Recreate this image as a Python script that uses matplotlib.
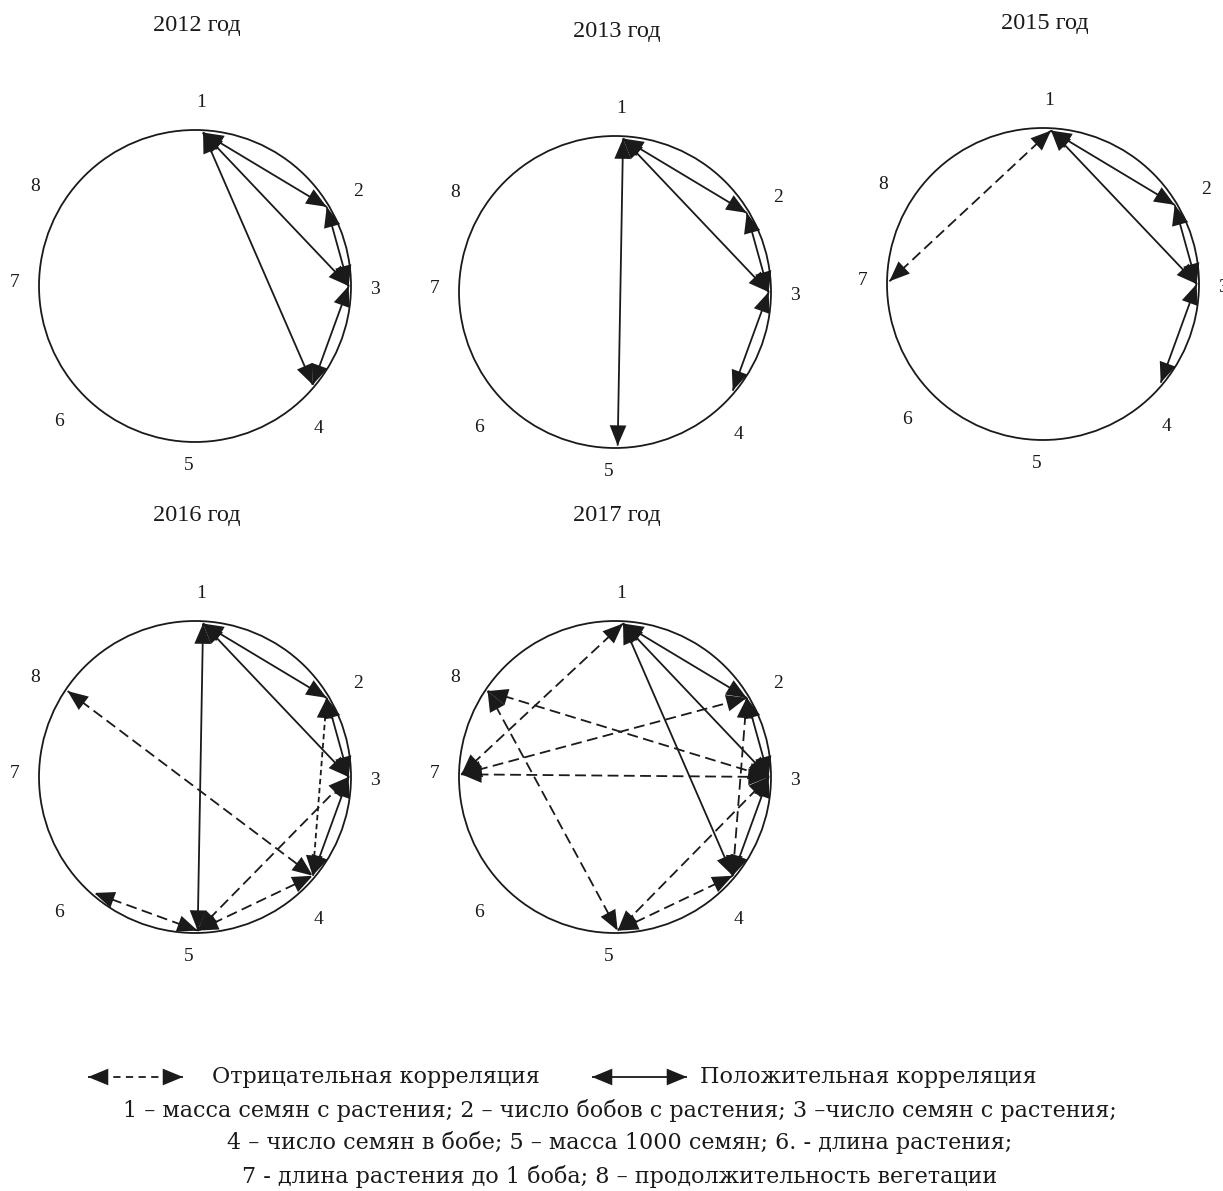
import numpy as np
import matplotlib.pyplot as plt
from matplotlib.patches import Circle, FancyArrowPatch, ArrowStyle

# panels (years) and the 8 traits placed round each circle
years = ['2012 год', '2013 год', '2015 год', '2016 год', '2017 год']
node_labels = ['1', '2', '3', '4', '5', '6', '7', '8']
node_angles = [87, 31, 0, -40, -89, -131, 179, 146]        # degrees on the circle
label_angles = [88, 30, -1, -49, -92, -135, 179, 148]
label_radii = [184, 188, 180, 189, 180, 192, 180, 188]

# correlation links per year: (trait, trait)
pos_2012 = [(1, 2), (1, 3), (1, 4), (2, 3), (3, 4)]
neg_2012 = []
pos_2013 = [(1, 2), (1, 3), (1, 5), (2, 3), (3, 4)]
neg_2013 = []
pos_2015 = [(1, 2), (1, 3), (2, 3), (3, 4)]
neg_2015 = [(1, 7)]
pos_2016 = [(1, 2), (1, 3), (1, 5), (2, 3), (3, 4)]
neg_2016 = [(8, 4), (5, 6), (5, 4), (5, 3)]
fine_2016 = [(2, 4)]
pos_2017 = [(1, 2), (1, 3), (1, 4), (2, 3), (3, 4)]
neg_2017 = [(1, 7), (8, 3), (8, 5), (7, 2), (7, 3), (2, 4), (3, 5), (4, 5)]

links = [
    (pos_2012, neg_2012, []),
    (pos_2013, neg_2013, []),
    (pos_2015, neg_2015, []),
    (pos_2016, neg_2016, fine_2016),
    (pos_2017, neg_2017, []),
]

legend_neg = 'Отрицательная корреляция'
legend_pos = 'Положительная корреляция'
legend_lines = [
    '1 – масса семян с растения; 2 – число бобов с растения; 3 –число семян с растения;',
    '4 – число семян в бобе; 5 – масса 1000 семян; 6. - длина растения;',
    '7 - длина растения до 1 боба; 8 – продолжительность вегетации',
]

W, H = 1223, 1191
centers = [(195, 286), (615, 292), (1043, 284), (195, 777), (615, 777)]
R = 156
INK = '#1a1a1a'
LW = 1.3
SERIF = ['Liberation Serif', 'DejaVu Serif']

fig = plt.figure(figsize=(W / 100, H / 100), dpi=100)
ax = fig.add_axes([0, 0, 1, 1])
ax.set_xlim(0, W)
ax.set_ylim(H, 0)
ax.axis('off')

head = ArrowStyle('-|>', head_length=0.68, head_width=0.28)


def node_xy(c, k, rr=R * 0.985):
    a = np.radians(node_angles[k - 1])
    return np.array([c[0] + rr * np.cos(a), c[1] - rr * np.sin(a)])


def arrow(p, q, ls):
    p, q = np.asarray(p, float), np.asarray(q, float)
    ax.plot([p[0], q[0]], [p[1], q[1]], color=INK, lw=LW, linestyle=ls,
            solid_capstyle='butt', dash_capstyle='butt')
    u = (q - p) / np.hypot(*(q - p))
    for tip, d in ((q, u), (p, -u)):
        ax.add_patch(FancyArrowPatch(tip - 18 * d, tip, arrowstyle=head,
                                     mutation_scale=18, lw=LW, color=INK,
                                     shrinkA=0, shrinkB=0, joinstyle='miter'))


for c, year, (pos, neg, fine) in zip(centers, years, links):
    ax.add_patch(Circle(c, R, fill=False, lw=1.3, ec=INK))
    ax.text(c[0] + 2, c[1] - 261, year, ha='center', va='center',
            fontsize=17.5, family=SERIF, color=INK)
    for lab, a, rr in zip(node_labels, label_angles, label_radii):
        t = np.radians(a)
        ax.text(c[0] + rr * np.cos(t), c[1] - rr * np.sin(t), lab,
                ha='center', va='center', fontsize=14, family=SERIF, color=INK)
    for i, j in pos:
        arrow(node_xy(c, i), node_xy(c, j), '-')
    for i, j in neg:
        arrow(node_xy(c, i), node_xy(c, j), (0, (6, 3)))
    for i, j in fine:
        arrow(node_xy(c, i), node_xy(c, j), (0, (3, 2)))

# legend
ly = 1077
arrow((88, ly), (183, ly), (0, (4, 3)))
ax.text(212, ly, legend_neg, ha='left', va='center', fontsize=16,
        family='DejaVu Serif', color=INK)
arrow((592, ly), (687, ly), '-')
ax.text(700, ly, legend_pos, ha='left', va='center', fontsize=16,
        family='DejaVu Serif', color=INK)
for k, line in enumerate(legend_lines):
    ax.text(620, 1110 + 33 * k, line, ha='center', va='center', fontsize=16,
            family='DejaVu Serif', color=INK)

fig.savefig('out.png', dpi=100, facecolor='white')
